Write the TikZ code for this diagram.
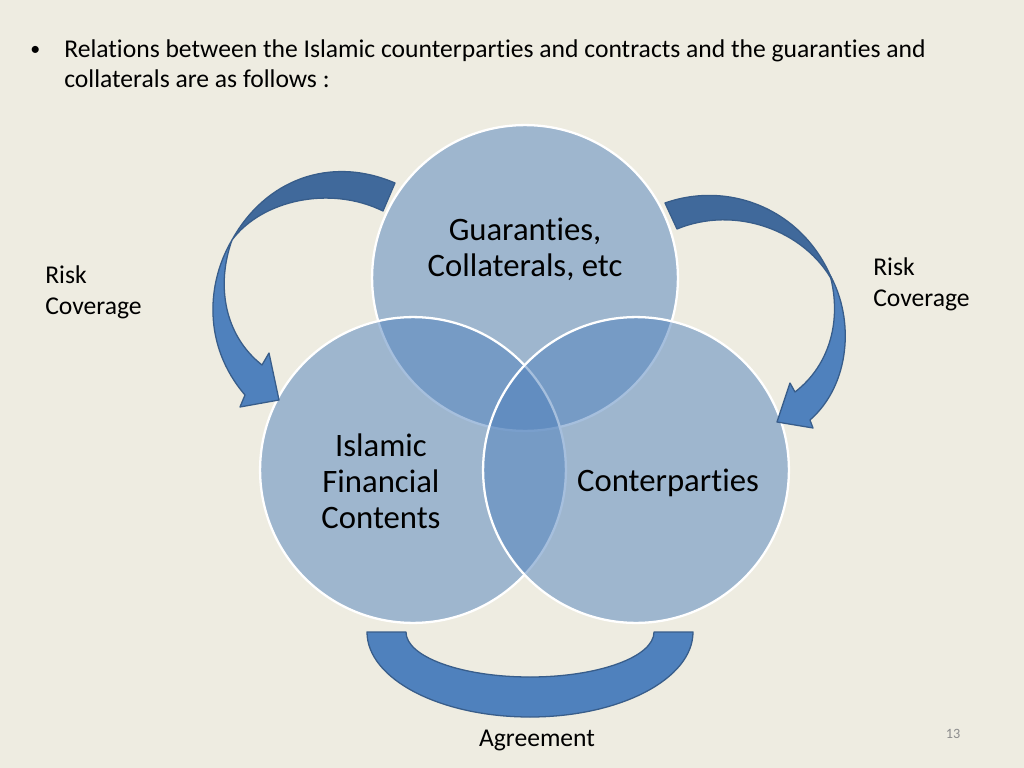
\documentclass[tikz,border=0pt]{standalone}
\usepackage{fontspec}
\setmainfont{Carlito}[Ligatures=NoCommon]
\usetikzlibrary{positioning}
\definecolor{slidebg}{HTML}{EEECE1}
\definecolor{accent}{HTML}{4F81BD}
\definecolor{accentdark}{HTML}{40699B}
\definecolor{rim}{HTML}{385D8A}
\definecolor{pagenum}{HTML}{8C8C8C}
\begin{document}
\begin{tikzpicture}[
  x=0.703pt,y=-0.703pt,
  venn/.style={circle,minimum size=215pt,inner sep=0pt,fill=accent,fill opacity=0.5,draw=white,draw opacity=1,line width=1.6pt},
  venntext/.style={font=\fontsize{23}{25.3}\selectfont,align=center,inner sep=0pt},
  sidetext/.style={font=\fontsize{18}{22}\selectfont,align=left,anchor=west,inner sep=0pt},
  band/.style={fill=accent,draw=rim,line width=0.9pt,line join=round},
  backband/.style={fill=accentdark,draw=rim,line width=0.9pt,line join=round}
]
\fill[slidebg] (0,0) rectangle (1024,768);
\useasboundingbox (0,0) rectangle (1024,768);
% intro line
\node[anchor=base west,inner sep=0pt,font=\fontsize{14}{21}\selectfont] (bullet) at (30,55) {•};
\node[anchor=base west,inner sep=0pt,align=left,font=\fontsize{18}{21}\selectfont] (intro) at (64,87)
  {Relations between the Islamic counterparties and contracts and the guaranties and\\collaterals are as follows :};
% three circles
\node[venn] (guar) at (525,278) {};
\node[venn] (contract) at (413,470) {};
\node[venn] (party) at (636,470) {};
\node[venntext] (guartext) at (525,249) {Guaranties,\\Collaterals, etc};
\node[venntext] (contracttext) at (381,481) {Islamic\\Financial\\Contents};
\node[venntext] (partytext) at (668,483) {Conterparties};
% left curved arrow
\filldraw[band] (232,240) .. controls (207,282) and (202,345) .. (245,395)
  -- (240,407) -- (279,400) -- (269,353) -- (262,365)
  .. controls (224,335) and (216,285) .. (232,240) -- cycle;
\filldraw[backband] (395,183) .. controls (330,155) and (265,180) .. (232,240)
  .. controls (262,200) and (330,185) .. (383,211) -- cycle;
% right curved arrow
\filldraw[band] (830,275) .. controls (855,320) and (850,385) .. (810,420)
  -- (813,428) -- (777,422) -- (790,383) -- (795,392)
  .. controls (830,365) and (842,320) .. (830,275) -- cycle;
\filldraw[backband] (665,203) .. controls (730,180) and (805,210) .. (833,282)
  .. controls (805,230) and (735,205) .. (677,229) -- cycle;
% bottom band
\filldraw[band] (367,632) arc[start angle=180,end angle=0,x radius=163,y radius=85]
  -- (654,632) arc[start angle=0,end angle=180,x radius=124,y radius=45] -- cycle;
% side labels
\node[sidetext] (riskleft) at (45,292) {Risk\\Coverage};
\node[sidetext] (riskright) at (873,284) {Risk\\Coverage};
\node[font=\fontsize{18}{22}\selectfont,inner sep=0pt] (agree) at (537,740) {Agreement};
\node[font=\fontsize{10}{12}\selectfont,text=pagenum,inner sep=0pt] (pageno) at (953,734) {13};
\end{tikzpicture}
\end{document}
